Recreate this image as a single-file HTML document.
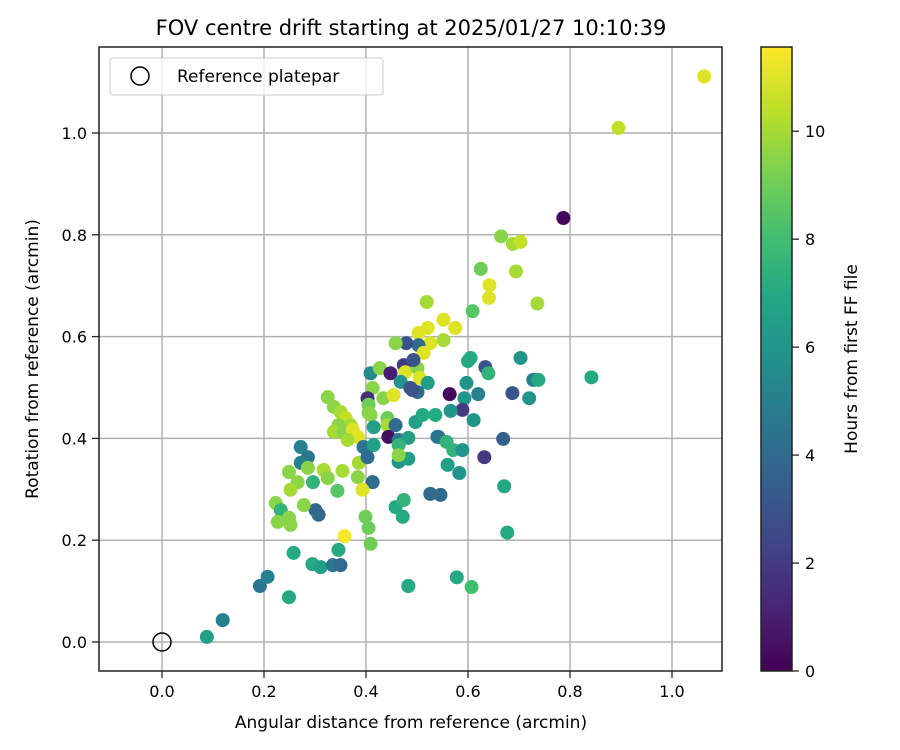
<!DOCTYPE html>
<html><head><meta charset="utf-8">
<style>
body{margin:0;background:#fff;}
svg{display:block;font-family:"DejaVu Sans","Liberation Sans",sans-serif;}
</style></head>
<body>
<svg id="chart" width="900" height="750" viewBox="0 0 900 750" xmlns="http://www.w3.org/2000/svg">
<defs>
<linearGradient id="viridis" x1="0" y1="1" x2="0" y2="0">
<stop offset="0" stop-color="#440154"/><stop offset="0.1" stop-color="#482475"/><stop offset="0.2" stop-color="#414487"/><stop offset="0.3" stop-color="#355f8d"/><stop offset="0.4" stop-color="#2a788e"/><stop offset="0.5" stop-color="#21918c"/><stop offset="0.6" stop-color="#22a884"/><stop offset="0.7" stop-color="#44bf70"/><stop offset="0.8" stop-color="#7ad151"/><stop offset="0.9" stop-color="#bddf26"/><stop offset="1" stop-color="#fde725"/>
</linearGradient>
</defs>
<text x="411" y="35" font-size="21" text-anchor="middle">FOV centre drift starting at 2025/01/27 10:10:39</text>
<g id="grid"></g>
<g id="points"></g>
<rect x="99" y="47" width="623" height="624" fill="none" stroke="#222" stroke-width="1.5"/>
<g id="axes"></g>
<text x="411" y="728" font-size="17" text-anchor="middle">Angular distance from reference (arcmin)</text>
<text transform="translate(38,359) rotate(-90)" font-size="17" text-anchor="middle">Rotation from reference (arcmin)</text>
<g>
<rect x="110" y="58" width="273" height="37" rx="3" fill="#fff" fill-opacity="0.8" stroke="#ccc"/>
<circle cx="140" cy="76" r="9" fill="none" stroke="#000" stroke-width="1.5"/>
<text x="177" y="82" font-size="17">Reference platepar</text>
</g>
<rect x="761" y="47" width="31" height="624" fill="url(#viridis)" stroke="#222" stroke-width="1.5"/>
<g id="cbticks"></g>
<text transform="translate(857,359) rotate(-90)" font-size="17" text-anchor="middle">Hours from first FF file</text>
</svg>
<script>
const xs=[0.088,0.119,0.192,0.207,0.249,0.258,0.295,0.311,0.335,0.350,0.346,0.301,0.307,0.223,0.233,0.249,0.227,0.252,0.278,0.249,0.266,0.252,0.272,0.286,0.272,0.286,0.296,0.317,0.325,0.325,0.337,0.350,0.360,0.370,0.346,0.337,0.356,0.374,0.384,0.364,0.354,0.344,0.384,0.386,0.413,0.393,0.399,0.405,0.358,0.409,0.483,0.409,0.427,0.448,0.474,0.477,0.501,0.505,0.521,0.501,0.491,0.413,0.403,0.405,0.434,0.454,0.409,0.442,0.442,0.458,0.415,0.444,0.464,0.483,0.497,0.511,0.536,0.540,0.395,0.415,0.403,0.464,0.466,0.464,0.483,0.458,0.474,0.472,0.519,0.609,0.552,0.575,0.521,0.503,0.552,0.526,0.503,0.479,0.458,0.513,0.493,0.605,0.600,0.634,0.640,0.703,0.728,0.738,0.720,0.687,0.597,0.620,0.593,0.564,0.589,0.566,0.611,0.542,0.558,0.571,0.589,0.560,0.583,0.669,0.632,0.526,0.546,0.671,0.677,0.468,0.487,0.405,0.464,1.063,0.895,0.787,0.665,0.688,0.703,0.694,0.625,0.642,0.641,0.736,0.842,0.578,0.607,0.483];
const ys=[0.010,0.043,0.110,0.128,0.088,0.175,0.153,0.147,0.151,0.151,0.181,0.259,0.250,0.273,0.259,0.244,0.236,0.230,0.269,0.334,0.314,0.299,0.383,0.363,0.352,0.342,0.314,0.338,0.322,0.481,0.462,0.452,0.440,0.426,0.426,0.413,0.411,0.417,0.403,0.397,0.336,0.297,0.324,0.352,0.314,0.299,0.246,0.224,0.208,0.193,0.110,0.528,0.538,0.528,0.544,0.530,0.538,0.519,0.509,0.491,0.495,0.499,0.479,0.466,0.479,0.485,0.446,0.440,0.426,0.426,0.422,0.403,0.397,0.401,0.432,0.446,0.446,0.403,0.383,0.387,0.363,0.387,0.363,0.354,0.360,0.265,0.279,0.246,0.668,0.650,0.633,0.617,0.617,0.607,0.593,0.587,0.583,0.587,0.587,0.568,0.554,0.558,0.552,0.540,0.528,0.558,0.515,0.515,0.479,0.489,0.509,0.487,0.479,0.487,0.456,0.454,0.436,0.403,0.393,0.377,0.377,0.348,0.332,0.399,0.363,0.291,0.289,0.306,0.215,0.511,0.499,0.450,0.367,1.111,1.010,0.833,0.797,0.782,0.786,0.728,0.733,0.701,0.676,0.665,0.520,0.127,0.108,0.110];
const hours=[6.5,5,4.5,5,7,7,7,6.5,4.5,4,7,4,4,9.5,7.5,9.5,9.5,9.5,9.5,9.5,9.5,10,5,4.5,5,9.5,7.5,10,9.5,9.5,9.5,10,10.5,10,9.5,10,9.5,11,11,10,10,8.5,9.5,10,4,11,9,9,11.5,9,7,5.5,9.5,1,2,11,9.5,11,6.5,4,3,9.5,1.5,9,9.5,11,9.5,9,10,4,6.5,0.5,4.5,6.5,6.5,7,7,4.5,4.5,6.5,4,7.5,9.5,6,6.5,7,7.5,7,10,8.5,11,11,11,11,10,11,4,3,9.5,11,3,7,7,3,7.5,6,5,7,6,3,6,5,6,0.3,2,6,6,4.5,7.5,7.5,6,6.5,6,3.5,2,4,4,7,7,6,3,9.5,9.5,11,10.5,0.2,9.5,10,10.5,10,9,11,11,10,7,7,8,7];
const xTicks=[0,0.2,0.4,0.6,0.8,1.0];
const yTicks=[0,0.2,0.4,0.6,0.8,1.0];
const cTicks=[0,2,4,6,8,10];
const X0=162,XS=510,Y0=642,YS=509,CMAX=11.56;
function sx(v){return X0+v*XS;}
function sy(v){return Y0-v*YS;}
function sc(v){return 671-v*(624/CMAX);}
const vir=[[68,1,84],[72,36,117],[65,68,135],[53,95,141],[42,120,142],[33,145,140],[34,168,132],[68,191,112],[122,209,81],[189,223,38],[253,231,37]];
function color(h){let t=Math.max(0,Math.min(1,h/CMAX))*10;let i=Math.min(9,Math.floor(t)),f=t-i;const a=vir[i],b=vir[i+1];return 'rgb('+a.map((c,k)=>Math.round(c+(b[k]-c)*f)).join(',')+')';}
const NS='http://www.w3.org/2000/svg';
function mk(tag,attrs,parent){const e=document.createElementNS(NS,tag);for(const k in attrs)e.setAttribute(k,attrs[k]);parent.appendChild(e);return e;}
const grid=document.getElementById('grid'),axes=document.getElementById('axes'),pts=document.getElementById('points'),cb=document.getElementById('cbticks');
xTicks.forEach(v=>{
 const g=mk('line',{x1:sx(v),x2:sx(v),y1:47,y2:671,stroke:'#b0b0b0','stroke-width':1.5},grid);
 
 
 const t=mk('line',{x1:sx(v),x2:sx(v),y1:671,y2:678,stroke:'#222','stroke-width':1.3},axes);
 
 
 const l=mk('text',{x:sx(v),y:697,'font-size':16,'text-anchor':'middle'},axes);
 l.textContent=v.toFixed(1);
 
 
});
yTicks.forEach(v=>{
 const g=mk('line',{x1:99,x2:722,y1:sy(v),y2:sy(v),stroke:'#b0b0b0','stroke-width':1.5},grid);
 
 
 const t=mk('line',{x1:92,x2:99,y1:sy(v),y2:sy(v),stroke:'#222','stroke-width':1.3},axes);
 
 
 const l=mk('text',{x:87,y:sy(v)+6,'font-size':16,'text-anchor':'end'},axes);
 l.textContent=v.toFixed(1);
 
 
});
for(let i=0;i<xs.length;i++){
 const c=mk('circle',{cx:sx(xs[i]),cy:sy(ys[i]),r:7,fill:color(hours[i])},pts);
 
 
}
const ref=mk('circle',{cx:sx(0),cy:sy(0),r:9,fill:'none',stroke:'#000','stroke-width':1.5},pts);


cTicks.forEach(v=>{
 const t=mk('line',{x1:792,x2:799,y1:sc(v),y2:sc(v),stroke:'#222','stroke-width':1.3},cb);
 
 
 const l=mk('text',{x:805,y:sc(v)+6,'font-size':16},cb);
 l.textContent=String(v);
 
 
});
</script>
</body></html>
